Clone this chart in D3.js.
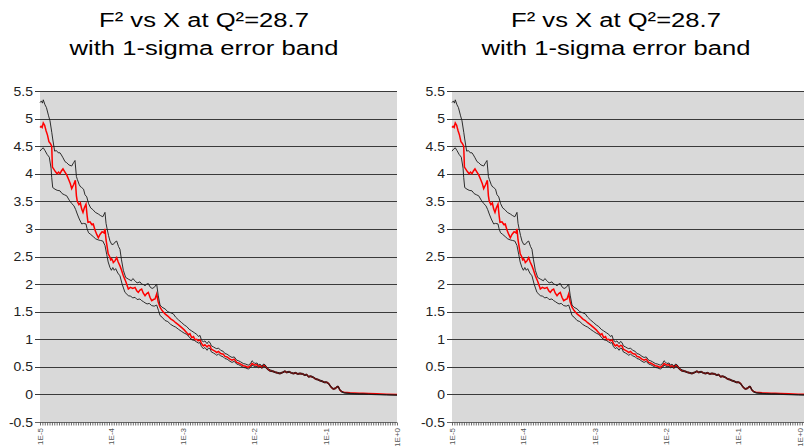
<!DOCTYPE html>
<html><head><meta charset="utf-8">
<script src="https://cdn.jsdelivr.net/npm/d3@7"></script>
<style>body{margin:0;background:#fff}svg{display:block}</style>
</head><body>
<svg id="c" width="804" height="446"></svg>
<script>
// ---------- data ----------
const titleLines = ["F\u00B2 vs X at Q\u00B2=28.7", "with 1-sigma error band"];
const yTicks = [-0.5, 0, 0.5, 1, 1.5, 2, 2.5, 3, 3.5, 4, 4.5, 5, 5.5];
const yTickLabels = ["-0.5","0","0.5","1","1.5","2","2.5","3","3.5","4","4.5","5","5.5"];
const xLabelValues = [1e-5, 1e-4, 1e-3, 1e-2, 1e-1, 1];
const xTickLabels = ["1E-5","1E-4","1E-3","1E-2","1E-1","1E+0"];

// [log10(X), F2]
const centralSeries = [
[-5.000,4.84],[-4.985,4.86],[-4.970,4.84],[-4.954,4.92],[-4.935,4.88],[-4.915,4.78],[-4.895,4.70],[-4.875,4.58],[-4.855,4.55],[-4.836,4.50],
[-4.826,4.12],[-4.805,4.08],[-4.785,4.04],[-4.760,4.00],[-4.740,4.03],[-4.720,4.00],[-4.700,4.05],[-4.678,4.09],[-4.655,4.04],[-4.626,3.98],
[-4.600,3.90],[-4.575,3.82],[-4.556,3.73],[-4.530,3.80],[-4.505,3.88],[-4.490,3.60],[-4.478,3.50],[-4.455,3.44],[-4.435,3.47],[-4.416,3.36],
[-4.398,3.30],[-4.380,3.38],[-4.356,3.45],[-4.340,3.24],[-4.328,3.12],[-4.300,3.13],[-4.275,3.08],[-4.254,3.09],[-4.230,2.98],[-4.205,2.90],
[-4.183,2.84],[-4.160,2.90],[-4.130,2.95],[-4.105,2.93],[-4.090,3.00],[-4.075,2.80],[-4.060,2.68],[-4.045,2.55],[-4.025,2.50],[-4.010,2.44],
[-3.996,2.46],[-3.980,2.42],[-3.973,2.39],[-3.950,2.42],[-3.926,2.48],[-3.905,2.40],[-3.880,2.33],[-3.860,2.26],[-3.833,2.15],[-3.800,2.05],
[-3.763,1.91],[-3.735,1.94],[-3.700,1.92],[-3.669,1.94],[-3.645,1.88],[-3.623,1.85],[-3.600,1.89],[-3.576,1.91],[-3.555,1.84],[-3.529,1.79],
[-3.505,1.83],[-3.483,1.85],[-3.460,1.76],[-3.436,1.70],[-3.410,1.72],[-3.389,1.73],[-3.366,1.82],[-3.345,1.68],[-3.319,1.58],[-3.290,1.52],
[-3.249,1.46],[-3.210,1.42],[-3.170,1.37],[-3.133,1.34],[-3.100,1.30],[-3.060,1.26],[-3.015,1.21],[-2.980,1.17],[-2.945,1.12],[-2.920,1.08],
[-2.900,1.10],[-2.875,1.03],[-2.850,1.05],[-2.830,0.99],[-2.805,1.00],[-2.785,0.97],[-2.759,0.99],[-2.740,0.93],[-2.713,0.88],[-2.690,0.90],
[-2.660,0.86],[-2.640,0.89],[-2.619,0.88],[-2.600,0.82],[-2.570,0.80],[-2.545,0.78],[-2.525,0.76],[-2.500,0.78],[-2.470,0.74],[-2.433,0.73],
[-2.410,0.69],[-2.380,0.68],[-2.339,0.64],[-2.310,0.62],[-2.280,0.64],[-2.245,0.58],[-2.220,0.57],[-2.190,0.55],[-2.153,0.52],[-2.120,0.51],
[-2.083,0.49],[-2.050,0.52],[-2.030,0.56],[-2.013,0.55],[-1.990,0.53],[-1.960,0.54],[-1.940,0.50],[-1.919,0.52],[-1.890,0.49],[-1.870,0.53],
[-1.849,0.52],[-1.820,0.47],[-1.800,0.45],[-1.779,0.43],[-1.740,0.42],[-1.700,0.40],[-1.670,0.39],[-1.639,0.38],[-1.600,0.40],[-1.570,0.42],
[-1.545,0.40],[-1.510,0.41],[-1.480,0.39],[-1.452,0.38],[-1.420,0.39],[-1.390,0.37],[-1.359,0.38],[-1.320,0.37],[-1.290,0.35],[-1.265,0.36],
[-1.240,0.32],[-1.210,0.33],[-1.172,0.31],[-1.140,0.28],[-1.110,0.27],[-1.078,0.25],[-1.050,0.24],[-1.020,0.22],[-0.985,0.22],[-0.960,0.20],
[-0.938,0.16],[-0.915,0.12],[-0.892,0.10],[-0.860,0.11],[-0.840,0.14],[-0.822,0.14],[-0.800,0.08],[-0.774,0.05],[-0.740,0.04],[-0.700,0.035],
[-0.658,0.03],[-0.600,0.025],[-0.530,0.02],[-0.472,0.02],[-0.400,0.015],[-0.284,0.01],[-0.150,0.005],[0.000,0.0]
];

const upperSeries = [
[-5.000,5.29],[-4.980,5.32],[-4.965,5.28],[-4.954,5.34],[-4.930,5.25],[-4.910,5.20],[-4.880,5.05],[-4.860,4.96],[-4.835,4.75],[-4.822,4.63],
[-4.795,4.41],[-4.770,4.42],[-4.745,4.38],[-4.720,4.38],[-4.700,4.34],[-4.678,4.29],[-4.650,4.22],[-4.626,4.20],[-4.595,4.16],[-4.556,4.14],
[-4.530,4.20],[-4.510,4.24],[-4.490,3.95],[-4.478,3.90],[-4.450,3.80],[-4.430,3.76],[-4.416,3.75],[-4.390,3.72],[-4.370,3.62],[-4.345,3.58],
[-4.320,3.46],[-4.290,3.38],[-4.260,3.35],[-4.225,3.30],[-4.183,3.27],[-4.150,3.24],[-4.120,3.22],[-4.090,3.30],[-4.075,3.10],[-4.060,3.00],
[-4.040,2.88],[-4.020,2.78],[-3.996,2.72],[-3.973,2.72],[-3.950,2.76],[-3.926,2.78],[-3.900,2.68],[-3.880,2.63],[-3.860,2.45],[-3.833,2.25],
[-3.800,2.12],[-3.763,2.09],[-3.720,2.06],[-3.700,2.10],[-3.669,2.06],[-3.640,2.02],[-3.600,2.04],[-3.576,2.00],[-3.550,1.99],[-3.529,1.97],
[-3.505,2.00],[-3.483,2.01],[-3.460,1.95],[-3.430,1.92],[-3.400,1.94],[-3.366,2.00],[-3.345,1.80],[-3.319,1.62],[-3.290,1.58],[-3.249,1.55],
[-3.210,1.50],[-3.170,1.48],[-3.133,1.46],[-3.100,1.40],[-3.060,1.35],[-3.015,1.30],[-2.980,1.26],[-2.945,1.23],[-2.910,1.18],[-2.875,1.15],
[-2.840,1.12],[-2.805,1.09],[-2.780,1.05],[-2.759,1.07],[-2.740,0.99],[-2.713,0.95],[-2.690,0.97],[-2.660,0.92],[-2.640,0.96],[-2.619,0.94],
[-2.600,0.88],[-2.570,0.86],[-2.545,0.84],[-2.525,0.83],[-2.500,0.84],[-2.470,0.80],[-2.433,0.78],[-2.410,0.74],[-2.380,0.73],[-2.339,0.69],
[-2.310,0.67],[-2.280,0.68],[-2.245,0.62],[-2.220,0.61],[-2.190,0.59],[-2.153,0.56],[-2.120,0.55],[-2.083,0.53],[-2.050,0.56],[-2.030,0.61],
[-2.013,0.59],[-1.990,0.56],[-1.960,0.57],[-1.940,0.53],[-1.919,0.55],[-1.890,0.51],[-1.870,0.55],[-1.849,0.54],[-1.820,0.485],[-1.800,0.465],
[-1.779,0.445],[-1.740,0.43],[-1.700,0.41],[-1.670,0.40],[-1.639,0.39],[-1.600,0.41],[-1.570,0.43],[-1.545,0.41],[-1.510,0.42],[-1.480,0.40],
[-1.452,0.39],[-1.420,0.40],[-1.390,0.38],[-1.359,0.39],[-1.320,0.38],[-1.290,0.36],[-1.265,0.37],[-1.240,0.33],[-1.210,0.34],[-1.172,0.32],
[-1.140,0.29],[-1.110,0.28],[-1.078,0.26],[-1.050,0.25],[-1.020,0.23],[-0.985,0.23],[-0.960,0.21],[-0.938,0.17],[-0.915,0.13],[-0.892,0.11],
[-0.860,0.12],[-0.840,0.15],[-0.822,0.15],[-0.800,0.09],[-0.774,0.06],[-0.740,0.03],[-0.700,0.025],[-0.658,0.02],[-0.600,0.015],[-0.530,0.01],
[-0.472,0.01],[-0.400,0.005],[-0.284,0.0],[-0.150,-0.005],[0.000,-0.01]
];

const lowerSeries = [
[-5.000,4.41],[-4.975,4.45],[-4.954,4.47],[-4.930,4.42],[-4.900,4.35],[-4.870,4.30],[-4.845,4.10],[-4.836,3.93],[-4.822,3.75],[-4.790,3.72],
[-4.760,3.70],[-4.720,3.69],[-4.690,3.64],[-4.660,3.62],[-4.626,3.60],[-4.590,3.52],[-4.556,3.46],[-4.525,3.42],[-4.500,3.35],[-4.478,3.27],
[-4.450,3.18],[-4.416,3.09],[-4.390,3.10],[-4.356,3.09],[-4.340,3.00],[-4.320,2.93],[-4.290,2.90],[-4.254,2.86],[-4.220,2.82],[-4.183,2.80],
[-4.150,2.79],[-4.120,2.78],[-4.090,2.70],[-4.066,2.54],[-4.045,2.40],[-4.020,2.30],[-4.000,2.25],[-3.980,2.30],[-3.960,2.25],[-3.940,2.28],
[-3.910,2.20],[-3.880,2.15],[-3.850,2.00],[-3.810,1.85],[-3.763,1.79],[-3.730,1.78],[-3.700,1.75],[-3.669,1.76],[-3.640,1.72],[-3.600,1.73],
[-3.576,1.70],[-3.550,1.68],[-3.529,1.66],[-3.500,1.64],[-3.470,1.65],[-3.436,1.61],[-3.400,1.60],[-3.366,1.62],[-3.340,1.52],[-3.319,1.43],
[-3.290,1.40],[-3.249,1.34],[-3.210,1.32],[-3.170,1.27],[-3.133,1.24],[-3.100,1.22],[-3.060,1.18],[-3.015,1.14],[-2.980,1.11],[-2.945,1.09],
[-2.910,1.04],[-2.875,0.99],[-2.840,0.98],[-2.805,0.95],[-2.780,0.93],[-2.759,0.94],[-2.740,0.87],[-2.713,0.83],[-2.690,0.85],[-2.660,0.80],
[-2.640,0.84],[-2.619,0.83],[-2.600,0.77],[-2.570,0.75],[-2.545,0.73],[-2.525,0.71],[-2.500,0.73],[-2.470,0.70],[-2.433,0.68],[-2.410,0.65],
[-2.380,0.64],[-2.339,0.60],[-2.310,0.58],[-2.280,0.60],[-2.245,0.55],[-2.220,0.54],[-2.190,0.52],[-2.153,0.49],[-2.120,0.48],[-2.083,0.46],
[-2.050,0.49],[-2.030,0.53],[-2.013,0.52],[-1.990,0.50],[-1.960,0.51],[-1.940,0.48],[-1.919,0.50],[-1.890,0.47],[-1.870,0.51],[-1.849,0.50],
[-1.820,0.455],[-1.800,0.435],[-1.779,0.42],[-1.740,0.41],[-1.700,0.39],[-1.670,0.38],[-1.639,0.37],[-1.600,0.39],[-1.570,0.41],[-1.545,0.39],
[-1.510,0.40],[-1.480,0.38],[-1.452,0.37],[-1.420,0.38],[-1.390,0.36],[-1.359,0.37],[-1.320,0.36],[-1.290,0.34],[-1.265,0.35],[-1.240,0.31],
[-1.210,0.32],[-1.172,0.30],[-1.140,0.27],[-1.110,0.26],[-1.078,0.24],[-1.050,0.23],[-1.020,0.21],[-0.985,0.21],[-0.960,0.19],[-0.938,0.15],
[-0.915,0.11],[-0.892,0.09],[-0.860,0.10],[-0.840,0.13],[-0.822,0.13],[-0.800,0.07],[-0.774,0.04],[-0.740,0.025],[-0.700,0.02],[-0.658,0.015],
[-0.600,0.01],[-0.530,0.005],[-0.472,0.005],[-0.400,0.0],[-0.284,-0.005],[-0.150,-0.01],[0.000,-0.015]
];

// ---------- drawing ----------
const svg = d3.select("#c");
const FONT = "'Liberation Sans', Arial, sans-serif";

const panels = [
  {left: 40, right: 397, titleX: 204},
  {left: 452, right: 809, titleX: 616}
];
const yTop = 91, yBottom = 422;

panels.forEach(p => {
  const g = svg.append("g");
  const x = d3.scaleLog().domain([1e-5, 1]).range([p.left, p.right]);
  const y = d3.scaleLinear().domain([-0.5, 5.5]).range([yBottom, yTop]);

  // title
  titleLines.forEach((t, i) => {
    g.append("text")
      .attr("transform", `translate(${p.titleX},${27 + i * 28}) scale(1.28,1)`)
      .attr("text-anchor", "middle")
      .attr("font-family", FONT)
      .attr("font-size", 20)
      .attr("fill", "#000")
      .text(t);
  });

  // plot background
  g.append("rect")
    .attr("x", p.left).attr("y", y(5.5))
    .attr("width", p.right - p.left).attr("height", y(-0.5) - y(5.5))
    .attr("fill", "#d9d9d9");

  // gridlines + y labels
  yTicks.forEach((v, i) => {
    const yy = Math.round(y(v)) + 0.5;
    g.append("line")
      .attr("x1", p.left - 5).attr("x2", p.right)
      .attr("y1", yy).attr("y2", yy)
      .attr("stroke", v === -0.5 ? "#666" : "#3a3a3a")
      .attr("stroke-width", 1);
    g.append("text")
      .attr("transform", `translate(${p.left - 7},${y(v) + 4.5}) scale(1.12,1)`)
      .attr("text-anchor", "end")
      .attr("font-family", FONT)
      .attr("font-size", 12.5)
      .attr("fill", "#222")
      .text(yTickLabels[i]);
  });

  // x minor ticks
  const minorTicks = d3.range(0, 151).map(k => Math.pow(10, -5 + k / 30));
  const axis = d3.axisBottom(x).tickValues(minorTicks).tickSize(3).tickFormat("");
  const ag = g.append("g").attr("transform", `translate(0,${yBottom + 0.5})`).call(axis);
  ag.select(".domain").remove();
  ag.selectAll(".tick line").attr("stroke", "#444").attr("stroke-width", 0.8);

  // x labels, rotated
  xLabelValues.forEach((v, i) => {
    g.append("text")
      .attr("transform", `translate(${Math.min(x(v) + 3, 803)},${yBottom + 6}) rotate(-90)`)
      .attr("text-anchor", "end")
      .attr("font-family", FONT)
      .attr("font-size", 8)
      .attr("fill", "#555")
      .text(xTickLabels[i]);
  });

  const line = d3.line().x(d => x(Math.pow(10, d[0]))).y(d => y(d[1]));

  g.append("path").datum(centralSeries)
    .attr("d", line).attr("fill", "none")
    .attr("stroke", "#ff0000").attr("stroke-width", 1.5);
  [upperSeries, lowerSeries].forEach(s => {
    g.append("path").datum(s)
      .attr("d", line).attr("fill", "none")
      .attr("stroke", "#1a1a1a").attr("stroke-width", 0.9);
  });
});
</script>
</body></html>
